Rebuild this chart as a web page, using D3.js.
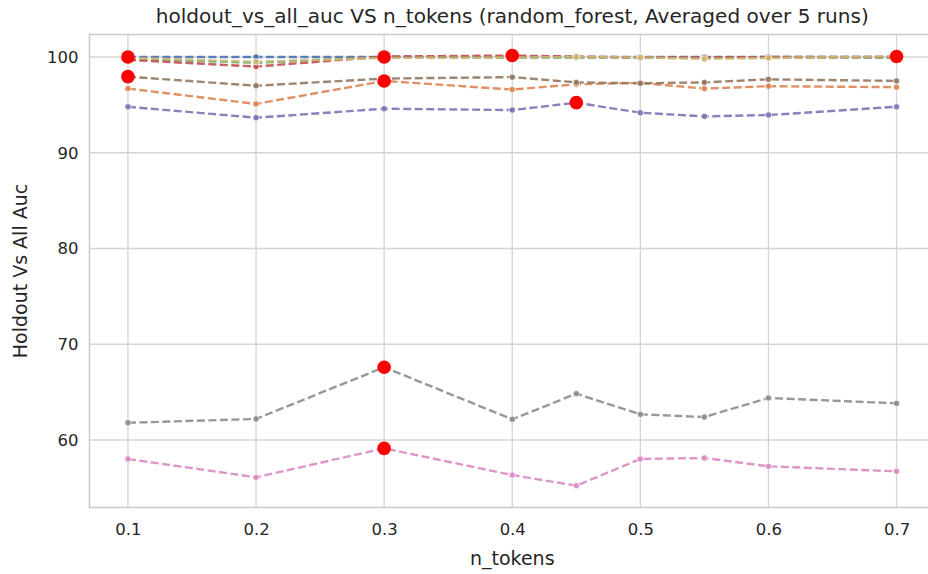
<!DOCTYPE html>
<html>
<head>
<meta charset="utf-8">
<title>holdout_vs_all_auc VS n_tokens</title>
<script src="https://cdn.jsdelivr.net/npm/d3@7"></script>
<style>
  body { margin: 0; background: #fff; }
  text { font-family: "DejaVu Sans", sans-serif; fill: #262626; }
</style>
</head>
<body>
<div id="chart"></div>
<script>
// data
const nTokens = [0.1, 0.2, 0.3, 0.4, 0.45, 0.5, 0.55, 0.6, 0.7];
const blue   = [100.0, 100.0, 100.0, 100.0, 100.0, 100.0, 100.0, 100.0, 100.0];
const orange = [96.7, 95.1, 97.5, 96.6, 97.15, 97.3, 96.7, 96.95, 96.85];
const green  = [99.8, 99.4, 100.0, 99.95, 99.95, 99.95, 99.9, 99.95, 99.95];
const red    = [99.7, 99.0, 100.05, 100.15, 100.05, 99.95, 99.95, 100.0, 100.0];
const purple = [94.8, 93.66, 94.6, 94.46, 95.23, 94.18, 93.8, 93.94, 94.8];
const brown  = [97.95, 97.0, 97.75, 97.9, 97.35, 97.25, 97.35, 97.67, 97.5];
const pink   = [58.02, 56.1, 59.13, 56.34, 55.23, 58.02, 58.12, 57.25, 56.73];
const gray   = [61.8, 62.2, 67.6, 62.16, 64.84, 62.68, 62.4, 64.39, 63.83];
const olive  = [99.9, 99.5, 99.9, 99.95, 100.0, 99.95, 99.8, 99.9, 100.05];

const series = [blue, orange, green, red, purple, brown, pink, gray, olive];
const colors = ["#4C72B0", "#DD8452", "#55A868", "#C44E52", "#8172B3",
                "#937860", "#DA8BC3", "#8C8C8C", "#CCB974"];

const xTicks = [0.1, 0.2, 0.3, 0.4, 0.5, 0.6, 0.7];
const yTicks = [60, 70, 80, 90, 100];

const W = 928, H = 574;
const margin = {top: 34.5, right: -7, bottom: 66.5, left: 89.5};
const w = W - margin.left - margin.right;
const h = H - margin.top - margin.bottom;

const svg = d3.select("#chart").append("svg")
    .attr("width", W).attr("height", H);
const g = svg.append("g")
    .attr("transform", "translate(" + margin.left + "," + margin.top + ")");

const x = d3.scaleLinear().domain([0.07, 0.73]).range([0, w]);
const y = d3.scaleLinear().domain([52.95, 102.35]).range([h, 0]);

// grid
g.append("g").selectAll("line").data(xTicks).enter().append("line")
    .attr("x1", d => x(d)).attr("x2", d => x(d))
    .attr("y1", 0).attr("y2", h)
    .attr("stroke", "#d4d4d4").attr("stroke-width", 1.3);
g.append("g").selectAll("line").data(yTicks).enter().append("line")
    .attr("x1", 0).attr("x2", w)
    .attr("y1", d => y(d)).attr("y2", d => y(d))
    .attr("stroke", "#d4d4d4").attr("stroke-width", 1.3);

// spines
g.append("rect").attr("x", 0).attr("y", 0).attr("width", w).attr("height", h)
    .attr("fill", "none").attr("stroke", "#cccccc").attr("stroke-width", 1.6);

// axes
const xAxis = d3.axisBottom(x).tickValues(xTicks).tickSize(0).tickPadding(16)
    .tickFormat(d3.format(".1f"));
const yAxis = d3.axisLeft(y).tickValues(yTicks).tickSize(0).tickPadding(11);
g.append("g").attr("transform", "translate(0," + h + ")").call(xAxis)
    .call(a => a.select(".domain").remove())
    .selectAll("text").attr("font-size", "16.5px").attr("fill", "#262626");
g.append("g").call(yAxis)
    .call(a => a.select(".domain").remove())
    .selectAll("text").attr("font-size", "16.5px").attr("fill", "#262626");

// lines
const line = d3.line().x((d, i) => x(nTokens[i])).y(d => y(d));
series.forEach((s, k) => {
  g.append("path").datum(s)
      .attr("d", line)
      .attr("fill", "none")
      .attr("stroke", colors[k])
      .attr("stroke-width", 2.4)
      .attr("stroke-dasharray", "8,3.5")
      .attr("opacity", 0.9);
  g.append("g").selectAll("circle").data(s).enter().append("circle")
      .attr("cx", (d, i) => x(nTokens[i]))
      .attr("cy", d => y(d))
      .attr("r", 3.2)
      .attr("fill", colors[k])
      .attr("stroke", "#fff").attr("stroke-width", 0.8)
      .attr("opacity", 0.9);
});

// red marker at each series maximum
const maxima = series.map(s => {
  const i = d3.maxIndex(s);
  return {x: nTokens[i], v: s[i]};
});
g.append("g").selectAll("circle").data(maxima).enter().append("circle")
    .attr("cx", d => x(d.x)).attr("cy", d => y(d.v))
    .attr("r", 6.8).attr("fill", "#ff0000");

// titles
svg.append("text")
    .attr("x", margin.left + w / 2).attr("y", 23)
    .attr("text-anchor", "middle").attr("font-size", "19px")
    .attr("textLength", 713).attr("lengthAdjust", "spacingAndGlyphs")
    .text("holdout_vs_all_auc VS n_tokens (random_forest, Averaged over 5 runs)");
svg.append("text")
    .attr("x", margin.left + w / 2).attr("y", 565)
    .attr("text-anchor", "middle").attr("font-size", "19px")
    .text("n_tokens");
svg.append("text")
    .attr("transform", "translate(27," + (margin.top + h / 2) + ") rotate(-90)")
    .attr("text-anchor", "middle").attr("font-size", "19px")
    .text("Holdout Vs All Auc");
</script>
</body>
</html>
